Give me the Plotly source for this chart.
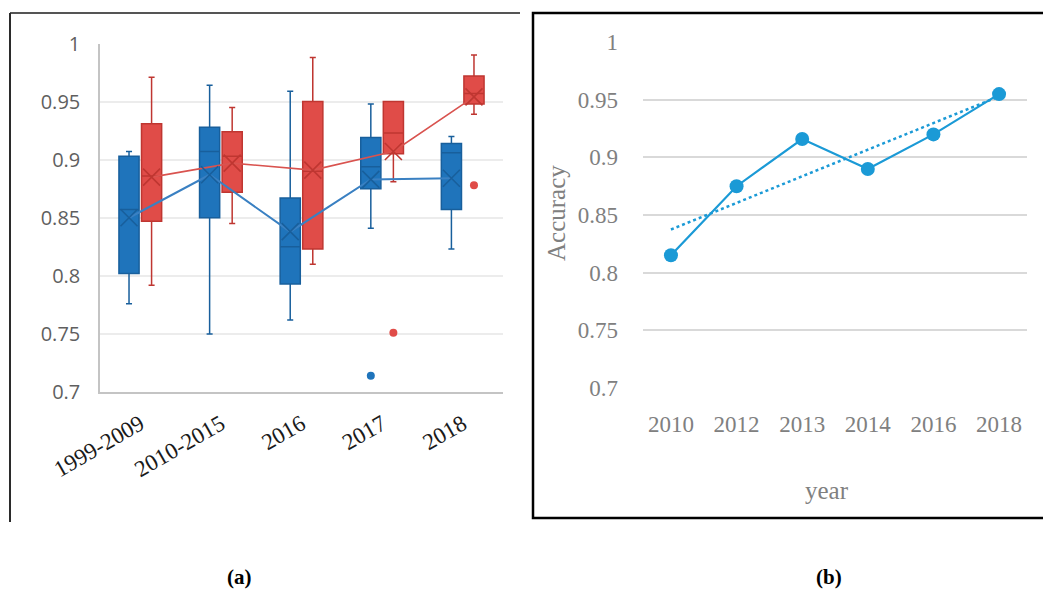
import numpy as np
import plotly.graph_objects as go

W, H = 1043, 590

# ---- panel (a): accuracy distribution per period ----
periods = ["1999-2009", "2010-2015", "2016", "2017", "2018"]

a_lower = [0.776, 0.750, 0.762, 0.841, 0.823]
a_q1 = [0.802, 0.850, 0.793, 0.875, 0.857]
a_median = [0.857, 0.907, 0.825, 0.894, 0.906]
a_q3 = [0.903, 0.928, 0.867, 0.919, 0.914]
a_upper = [0.907, 0.964, 0.959, 0.948, 0.920]
a_mean = [0.850, 0.887, 0.838, 0.883, 0.884]
a_outlier_period = ["2017"]
a_outlier_value = [0.714]

b_lower = [0.792, 0.845, 0.810, 0.881, 0.939]
b_q1 = [0.847, 0.872, 0.823, 0.905, 0.948]
b_median = [0.886, 0.903, 0.890, 0.923, 0.957]
b_q3 = [0.931, 0.924, 0.950, 0.950, 0.972]
b_upper = [0.971, 0.945, 0.988, 0.950, 0.990]
b_mean = [0.885, 0.897, 0.891, 0.907, 0.954]
b_outlier_period = ["2017", "2018"]
b_outlier_value = [0.751, 0.878]

y_ticks_a = [0.7, 0.75, 0.8, 0.85, 0.9, 0.95, 1.0]
y_ticktext_a = ["0.7", "0.75", "0.8", "0.85", "0.9", "0.95", "1"]

# ---- panel (b): yearly accuracy ----
years = ["2010", "2012", "2013", "2014", "2016", "2018"]
accuracy = [0.815, 0.875, 0.916, 0.890, 0.920, 0.955]
y_ticks_b = [0.7, 0.75, 0.8, 0.85, 0.9, 0.95, 1.0]
y_ticktext_b = ["0.7", "0.75", "0.8", "0.85", "0.9", "0.95", "1"]

BLUE_FILL, BLUE_EDGE, BLUE_LINE = "#1f74bb", "#185f9c", "#3a80c2"
RED_FILL, RED_EDGE, RED_LINE = "#e04c48", "#bf3631", "#d9534f"
LINE_B = "#1b9ad6"

GROUP_SHIFT = 0.14
BOX_WIDTH = 0.25

idx = np.arange(len(periods))
pos_a = idx - GROUP_SHIFT
pos_b = idx + GROUP_SHIFT


def period_pos(names, shift):
    return [periods.index(n) + shift for n in names]


def px(x):
    return x / W


def py(y):
    return 1 - y / H


fig = go.Figure()

# lines linking the group means (drawn underneath the boxes)
fig.add_trace(go.Scatter(x=pos_a, y=a_mean, mode="lines",
                         line=dict(color=BLUE_LINE, width=2),
                         xaxis="x", yaxis="y", hoverinfo="skip"))
fig.add_trace(go.Scatter(x=pos_b, y=b_mean, mode="lines",
                         line=dict(color=RED_LINE, width=1.6),
                         xaxis="x", yaxis="y", hoverinfo="skip"))

fig.add_trace(go.Box(x=pos_a, q1=a_q1, median=a_median, q3=a_q3,
                     lowerfence=a_lower, upperfence=a_upper,
                     width=BOX_WIDTH, whiskerwidth=0.3,
                     fillcolor=BLUE_FILL, line=dict(color=BLUE_EDGE, width=1.5),
                     boxpoints=False, xaxis="x", yaxis="y"))
fig.add_trace(go.Box(x=pos_b, q1=b_q1, median=b_median, q3=b_q3,
                     lowerfence=b_lower, upperfence=b_upper,
                     width=BOX_WIDTH, whiskerwidth=0.3,
                     fillcolor=RED_FILL, line=dict(color=RED_EDGE, width=1.5),
                     boxpoints=False, xaxis="x", yaxis="y"))

# mean markers
fig.add_trace(go.Scatter(x=pos_a, y=a_mean, mode="markers",
                         marker=dict(symbol="x-thin", size=17,
                                     line=dict(color=BLUE_EDGE, width=1.6)),
                         xaxis="x", yaxis="y"))
fig.add_trace(go.Scatter(x=pos_b, y=b_mean, mode="markers",
                         marker=dict(symbol="x-thin", size=17,
                                     line=dict(color=RED_EDGE, width=1.6)),
                         xaxis="x", yaxis="y"))

# outliers
fig.add_trace(go.Scatter(x=period_pos(a_outlier_period, -GROUP_SHIFT), y=a_outlier_value,
                         mode="markers", marker=dict(color=BLUE_FILL, size=8),
                         xaxis="x", yaxis="y"))
fig.add_trace(go.Scatter(x=period_pos(b_outlier_period, GROUP_SHIFT), y=b_outlier_value,
                         mode="markers", marker=dict(color=RED_FILL, size=8),
                         xaxis="x", yaxis="y"))

# panel (b): accuracy by year with linear trend
slope, intercept = np.polyfit(np.arange(len(years)), accuracy, 1)
trend = slope * np.arange(len(years)) + intercept

fig.add_trace(go.Scatter(x=years, y=trend, mode="lines",
                         line=dict(color=LINE_B, width=2.5, dash="dot"),
                         xaxis="x2", yaxis="y2", hoverinfo="skip"))
fig.add_trace(go.Scatter(x=years, y=accuracy, mode="lines+markers",
                         line=dict(color=LINE_B, width=2.2),
                         marker=dict(color=LINE_B, size=14),
                         xaxis="x2", yaxis="y2"))

serif = "Liberation Serif, Times New Roman, serif"
sans = "Open Sans, Noto Sans, sans-serif"

fig.update_layout(
    width=W, height=H,
    margin=dict(l=0, r=0, t=0, b=0, autoexpand=False),
    paper_bgcolor="white", plot_bgcolor="white",
    showlegend=False,
    xaxis=dict(domain=[px(100), px(503)], range=[-0.5, 4.5],
               tickvals=list(idx), ticktext=periods, tickangle=-30,
               showgrid=False, zeroline=False, automargin=False,
               showline=True, linecolor="#c4c4c4", linewidth=1.5,
               ticks="", tickfont=dict(family=serif, size=23, color="#1a1a1a"),
               ticklabelstandoff=8),
    yaxis=dict(domain=[py(392), py(43.5)], range=[0.7, 1.0],
               tickvals=y_ticks_a, ticktext=y_ticktext_a, automargin=False,
               showgrid=True, gridcolor="#ececec", gridwidth=1.5,
               zeroline=False, showline=True, linecolor="#c4c4c4", linewidth=1.5,
               ticks="", tickfont=dict(family=sans, size=20, color="#5f5f5f"),
               ticklabelstandoff=14),
    xaxis2=dict(domain=[px(643), px(1027)], type="category", automargin=False,
                showgrid=False, zeroline=False, showline=False, ticks="",
                tickfont=dict(family=serif, size=23, color="#808080"),
                ticklabelstandoff=20, anchor="y2"),
    yaxis2=dict(domain=[py(388.3), py(41.7)], range=[0.6995, 1.0005],
                tickvals=y_ticks_b, ticktext=y_ticktext_b, automargin=False,
                showgrid=True, gridcolor="#d9d9d9", gridwidth=1.5,
                zeroline=False, showline=False, ticks="",
                tickfont=dict(family=serif, size=23, color="#808080"),
                ticklabelstandoff=24, anchor="x2"),
)

annotations = [
    dict(text="Accuracy", x=px(557), y=py(213), textangle=-90,
         font=dict(family=serif, size=25, color="#808080")),
    dict(text="year", x=px(827), y=py(490),
         font=dict(family=serif, size=25, color="#808080")),
    dict(text="<b>(a)</b>", x=px(239), y=py(577),
         font=dict(family=serif, size=21, color="black")),
    dict(text="<b>(b)</b>", x=px(829), y=py(577),
         font=dict(family=serif, size=21, color="black")),
]
for a in annotations:
    a.update(xref="paper", yref="paper", showarrow=False,
             xanchor="center", yanchor="middle")
fig.update_layout(annotations=annotations)

frame = "#2b2b2b"
fig.update_layout(shapes=[
    dict(type="line", xref="paper", yref="paper",
         x0=px(10), y0=py(13), x1=px(520), y1=py(13),
         line=dict(color="#555555", width=2)),
    dict(type="line", xref="paper", yref="paper",
         x0=px(10), y0=py(13), x1=px(10), y1=py(522),
         line=dict(color=frame, width=2)),
    dict(type="rect", xref="paper", yref="paper",
         x0=px(533), y0=py(13), x1=px(1050), y1=py(518),
         line=dict(color="black", width=2.5)),
])

fig.write_html("out.html")
